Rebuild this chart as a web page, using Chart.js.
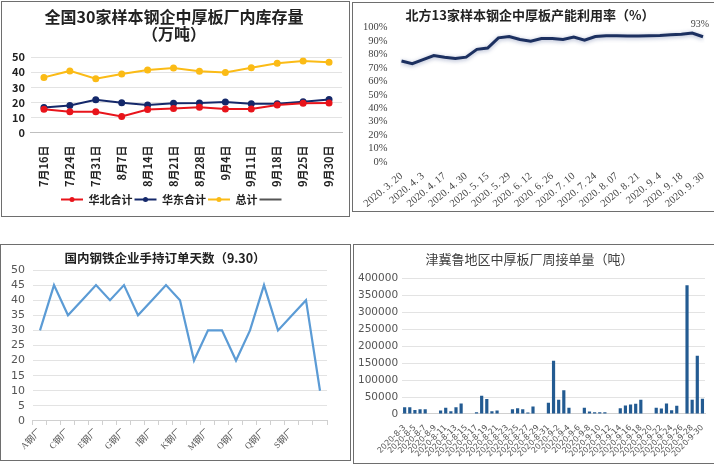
<!DOCTYPE html>
<html><head><meta charset="utf-8">
<script src="https://cdn.jsdelivr.net/npm/chart.js@4.4.1/dist/chart.umd.min.js"></script>
<style>
html,body{margin:0;padding:0;background:#fff;overflow:hidden;width:714px;height:464px;}
.panel{position:absolute;border:1px solid #6e6e6e;box-sizing:border-box;}
.box{position:absolute;}
</style></head><body>
<div class="panel" style="left:1px;top:1px;width:349px;height:216px;"></div>
<div class="panel" style="left:352px;top:2px;width:370px;height:210px;"></div>
<div class="panel" style="left:0px;top:244px;width:351px;height:217px;"></div>
<div class="panel" style="left:353px;top:244px;width:370px;height:220px;"></div>
<div class="box" style="left:2px;top:2px;width:346px;height:213px;"><canvas id="c1"></canvas></div>
<div class="box" style="left:353px;top:3px;width:360px;height:207px;"><canvas id="c2"></canvas></div>
<div class="box" style="left:1px;top:245px;width:348px;height:214px;"><canvas id="c3"></canvas></div>
<div class="box" style="left:354px;top:245px;width:359px;height:217px;"><canvas id="c4"></canvas></div>
<script>
// ---------- Chart 1 data ----------
const inventoryDates = ['7月16日','7月24日','7月31日','8月7日','8月14日','8月21日','8月28日','9月4日','9月11日','9月18日','9月25日','9月30日'];
const northTotal = [15.5,13.8,13.8,10.6,15.3,16.0,16.8,15.7,15.7,18.3,19.4,19.6];
const eastTotal  = [16.6,17.9,21.7,19.8,18.3,19.4,19.6,20.2,19.1,19.1,20.4,21.9];
const grandTotal = [36.6,40.9,35.7,38.9,41.5,42.8,40.6,39.8,43.0,46.0,47.4,46.6];

// ---------- Chart 2 data ----------
const utilDates = ['2020. 3. 20','2020. 3. 27','2020. 4. 3','2020. 4. 10','2020. 4. 17','2020. 4. 24','2020. 4. 30','2020. 5. 8','2020. 5. 15','2020. 5. 22','2020. 5. 29','2020. 6. 5','2020. 6. 12','2020. 6. 19','2020. 6. 26','2020. 7. 3','2020. 7. 10','2020. 7. 17','2020. 7. 24','2020. 7. 31','2020. 8. 07','2020. 8. 14','2020. 8. 21','2020. 8. 28','2020. 9. 4','2020. 9. 11','2020. 9. 18','2020. 9. 25','2020. 9. 30'];
const utilRate = [75.2,73.2,76.2,79.2,78.0,77.0,78.0,83.8,84.8,92.4,93.4,91.1,89.9,91.9,91.9,91.1,92.9,90.6,93.4,93.9,93.9,93.7,93.7,93.9,94.2,94.7,95.0,96.0,93.2];

// ---------- Chart 3 data ----------
const mills = ['A钢厂','B钢厂','C钢厂','D钢厂','E钢厂','F钢厂','G钢厂','H钢厂','I钢厂','J钢厂','K钢厂','L钢厂','M钢厂','N钢厂','O钢厂','P钢厂','Q钢厂','R钢厂','S钢厂','T钢厂','U钢厂'];
const orderDays = [30,45,35,40,45,40,45,35,40,45,40,20,30,30,20,30,45,30,35,40,10];

// ---------- Chart 4 data ----------
const orderDates = ['2020-8-3','2020-8-4','2020-8-5','2020-8-6','2020-8-7','2020-8-8','2020-8-9',
 '2020-8-10','2020-8-11','2020-8-12','2020-8-13','2020-8-14','2020-8-15','2020-8-16',
 '2020-8-17','2020-8-18','2020-8-19','2020-8-20','2020-8-21','2020-8-22','2020-8-23',
 '2020-8-24','2020-8-25','2020-8-26','2020-8-27','2020-8-28','2020-8-29','2020-8-30',
 '2020-8-31','2020-9-1','2020-9-2','2020-9-3','2020-9-4','2020-9-5','2020-9-6',
 '2020-9-7','2020-9-8','2020-9-9','2020-9-10','2020-9-11','2020-9-12','2020-9-13',
 '2020-9-14','2020-9-15','2020-9-16','2020-9-17','2020-9-18','2020-9-19','2020-9-20',
 '2020-9-21','2020-9-22','2020-9-23','2020-9-24','2020-9-25','2020-9-26','2020-9-27',
 '2020-9-28','2020-9-29','2020-9-30'];
const weeklyOrders = [20000,20000,12000,14000,14000,0,0,
 10000,18000,8000,20000,31000,0,0,
 5000,54000,44000,8000,10000,0,0,
 14000,17000,14000,4000,22000,0,0,
 33000,157000,42000,70000,18000,0,0,
 18000,7000,5000,5000,5000,0,0,
 17000,25000,28000,30000,42000,0,0,
 18000,16000,31000,11000,24000,0,380000,
 42000,172000,45000];

const CJK = '"Noto Sans CJK SC","Noto Sans",sans-serif';
const SERIF = '"Liberation Serif","DejaVu Serif","Noto Sans CJK SC",serif';
Chart.defaults.animation = false;
Chart.defaults.responsive = true;
Chart.defaults.maintainAspectRatio = false;
Chart.defaults.font.family = CJK;

// ---------------- Chart 1 ----------------
new Chart(document.getElementById('c1'), {
  type: 'line',
  data: {
    labels: inventoryDates,
    datasets: [
      {label:'华北合计', data:northTotal, borderColor:'#e8141b', backgroundColor:'#e8141b', borderWidth:2, pointRadius:2.5, pointStyle:'circle'},
      {label:'华东合计', data:eastTotal, borderColor:'#14286a', backgroundColor:'#14286a', borderWidth:2, pointRadius:2.5},
      {label:'总计', data:grandTotal, borderColor:'#fbbb16', backgroundColor:'#fbbb16', borderWidth:2, pointRadius:2.5},
      {label:'', data:[], borderColor:'#555', backgroundColor:'#555', borderWidth:1, pointStyle:'line'}
    ]
  },
  options: {
    layout:{padding:{left:4,right:6,top:4,bottom:0}},
    plugins: {
      title:{display:true, text:['全国30家样本钢企中厚板厂内库存量','（万吨）'], color:'#222', font:{size:16, weight:'bold', family:CJK, lineHeight:1.1}, padding:{top:2,bottom:14}},
      legend:{position:'bottom', labels:{color:'#222', font:{size:11, weight:'bold'}, boxWidth:22, boxHeight:2, padding:2,
        generateLabels(chart){
          return chart.data.datasets.map((ds,i)=>({text:ds.label, fillStyle:ds.borderColor, strokeStyle:ds.borderColor, lineWidth:0, datasetIndex:i, fontColor:'#222'}));
        }}},
      tooltip:{enabled:false}
    },
    scales: {
      x:{offset:true, grid:{display:false}, border:{color:'#bfbfbf'},
         ticks:{color:'#222', minRotation:90, maxRotation:90, autoSkip:false, font:{size:11, weight:'bold'}, padding:5}},
      y:{min:0, max:50, ticks:{stepSize:10, autoSkip:false, color:'#222', font:{size:11, weight:'bold'}, padding:6},
         grid:{color:'#e3e3e3', drawTicks:false}, border:{display:false}}
    }
  },
  plugins:[{
    id:'legendPoints',
    afterDraw(chart){
      const lg = chart.legend; if(!lg || !lg.legendHitBoxes) return;
      const ctx = chart.ctx;
      lg.legendHitBoxes.forEach((b,i)=>{
        if(i>2) return;
        const ds = chart.data.datasets[i];
        ctx.save(); ctx.fillStyle = ds.borderColor; ctx.beginPath();
        ctx.arc(b.left+11, b.top+b.height/2, 2.5, 0, Math.PI*2); ctx.fill(); ctx.restore();
      });
    }
  }]
});

// ---------------- Chart 2 ----------------
new Chart(document.getElementById('c2'), {
  type: 'line',
  data: { labels: utilDates,
    datasets:[{label:'产能利用率', data:utilRate, borderColor:'#1c3060', borderWidth:3, pointRadius:0, tension:0}] },
  options: {
    layout:{padding:{left:4,right:10,top:0,bottom:0}},
    plugins:{
      title:{display:true, text:'北方13家样本钢企中厚板产能利用率（%）', color:'#222', font:{size:13, weight:'bold', family:CJK}, padding:{top:4,bottom:5}},
      legend:{display:false}, tooltip:{enabled:false}
    },
    scales:{
      x:{offset:false, grid:{display:false}, border:{display:false},
         ticks:{color:'#444', minRotation:40, maxRotation:40, autoSkip:false, font:{size:10.5, family:SERIF}, padding:0,
           callback(v,i){ return i%2===0 ? this.getLabelForValue(v) : ''; }}},
      y:{min:0, max:100, grid:{display:false}, border:{display:false},
         ticks:{stepSize:10, autoSkip:false, color:'#444', font:{size:10.5, family:SERIF}, padding:6, callback:v=>v+'%'}}
    }
  },
  plugins:[{
    id:'shadowAndLabel',
    beforeDatasetDraw(chart){ const c=chart.ctx; c.save(); c.shadowColor='rgba(60,80,140,0.45)'; c.shadowBlur=4; c.shadowOffsetY=1; },
    afterDatasetDraw(chart){ chart.ctx.restore(); },
    afterDraw(chart){
      const meta = chart.getDatasetMeta(0); const n = utilRate.length-1; const p = meta.data[n];
      const c = chart.ctx; c.save(); c.fillStyle='#444'; c.font='10px '+SERIF; c.textAlign='center';
      c.fillText(Math.round(utilRate[n])+'%', p.x-3, p.y-10); c.restore();
    }
  }]
});

// ---------------- Chart 3 ----------------
new Chart(document.getElementById('c3'), {
  type:'line',
  data:{labels:mills, datasets:[{label:'手持订单天数', data:orderDays, borderColor:'#5b9bd5', borderWidth:2.2, pointRadius:0, tension:0}]},
  options:{
    layout:{padding:{left:2,right:22,top:0,bottom:4}},
    plugins:{
      title:{display:true, text:'国内钢铁企业手持订单天数（9.30）', color:'#222', font:{size:12.5, weight:'bold', family:CJK}, padding:{top:6,bottom:4}},
      legend:{display:false}, tooltip:{enabled:false}
    },
    scales:{
      x:{offset:true, grid:{offset:true, drawOnChartArea:false, drawTicks:true, tickLength:4, color:'#d0d0d0'}, border:{color:'#d0d0d0'},
         ticks:{color:'#555', minRotation:45, maxRotation:45, autoSkip:false, font:{size:9, family:SERIF}, padding:2,
           callback(v,i){ return (i%2===0 && i<20) ? this.getLabelForValue(v) : ''; }}},
      y:{min:0, max:50, grid:{color:'#e3e3e3', drawTicks:false}, border:{display:false},
         ticks:{stepSize:5, autoSkip:false, color:'#555', font:{size:11, family:'"DejaVu Sans",sans-serif'}, padding:8}}
    }
  }
});

// ---------------- Chart 4 ----------------
new Chart(document.getElementById('c4'), {
  type:'bar',
  data:{labels:orderDates, datasets:[{label:'周接单量', data:weeklyOrders, backgroundColor:'#235b92', categoryPercentage:1.0, barPercentage:0.62}]},
  options:{
    layout:{padding:{left:0,right:8,top:0,bottom:2}},
    plugins:{
      title:{display:true, text:'津冀鲁地区中厚板厂周接单量（吨）', color:'#404040', font:{size:13, weight:'normal', family:CJK}, padding:{top:6,bottom:12}},
      legend:{display:false}, tooltip:{enabled:false}
    },
    scales:{
      x:{grid:{display:false}, border:{color:'#d0d0d0'},
         ticks:{color:'#555', minRotation:45, maxRotation:45, autoSkip:false, font:{size:8, family:'"DejaVu Sans",sans-serif'}, padding:1,
           callback(v,i){ return i%2===0 ? this.getLabelForValue(v) : ''; }}},
      y:{min:0, max:400000, grid:{color:'#e3e3e3', drawTicks:false}, border:{display:false},
         ticks:{stepSize:50000, autoSkip:false, color:'#555', font:{size:10.5, family:'"DejaVu Sans",sans-serif'}, padding:4, callback:v=>String(v)}}
    }
  }
});
</script>
</body></html>
